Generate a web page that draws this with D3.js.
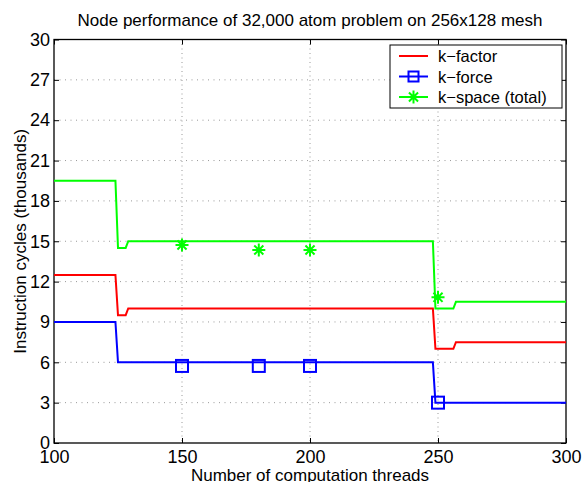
<!DOCTYPE html>
<html><head><meta charset="utf-8">
<script src="https://cdn.jsdelivr.net/npm/d3@7"></script>
<style>body{margin:0;background:#fff}svg{display:block}text{font-family:"Liberation Sans",Arial,sans-serif;fill:#000}</style>
</head><body>
<script>
const stepThreads = [100,124,125,128,129,248,249,256,257,300];
const kFactor = [12.5,12.5,9.5,9.5,10,10,7,7,7.5,7.5];
const kSpace = [19.5,19.5,14.5,14.5,15,15,10,10,10.5,10.5];
const forceThreads = [100,124,125,248,249,300];
const kForce = [9,9,6,6,3,3];
const markerThreads = [150,180,200,250];
const kForceMarkers = [5.73,5.73,5.73,3.0];
const kSpaceMarkers = [14.72,14.35,14.35,10.83];
const xTicks = [100,150,200,250,300];
const yTicks = [0,3,6,9,12,15,18,21,24,27,30];
const legendLabels = ["k\u2212factor","k\u2212force","k\u2212space (total)"];
const colors = ["#ff0000","#0000ff","#00ff00"];

const W=584,H=482, L=54,R=566,T=39.5,B=443;
const svg=d3.select("body").append("svg").attr("width",W).attr("height",H);
const x=d3.scaleLinear().domain([100,300]).range([L,R]);
const y=d3.scaleLinear().domain([0,30]).range([B,T]);

// grid
const g=svg.append("g");
g.selectAll(".gx").data(xTicks.slice(1,-1)).enter().append("line")
 .attr("x1",d=>x(d)).attr("x2",d=>x(d)).attr("y1",T).attr("y2",B)
 .attr("stroke","#999").attr("stroke-dasharray","1,3.5");
g.selectAll(".gy").data(yTicks.slice(1,-1)).enter().append("line")
 .attr("y1",d=>y(d)).attr("y2",d=>y(d)).attr("x1",L).attr("x2",R)
 .attr("stroke","#999").attr("stroke-dasharray","1,4.5");

// axes
const fs=18;
const xa=svg.append("g").attr("transform",`translate(0,${B})`).call(d3.axisBottom(x).tickValues(xTicks).tickSizeInner(-5).tickSizeOuter(0).tickPadding(6));
const xt=svg.append("g").attr("transform",`translate(0,${T})`).call(d3.axisTop(x).tickValues(xTicks).tickSizeInner(-5).tickSizeOuter(0).tickFormat(""));
const ya=svg.append("g").attr("transform",`translate(${L},0)`).call(d3.axisLeft(y).tickValues(yTicks).tickSizeInner(-5).tickSizeOuter(0).tickPadding(4));
const yr=svg.append("g").attr("transform",`translate(${R},0)`).call(d3.axisRight(y).tickValues(yTicks).tickSizeInner(-5).tickSizeOuter(0).tickFormat(""));
[xa,xt,ya,yr].forEach(a=>{a.select(".domain").remove();a.selectAll("line").attr("stroke","#000");a.selectAll("text").attr("font-size",fs).attr("font-family","Liberation Sans, Arial, sans-serif");});
xa.selectAll("text").attr("dy","0.75em");
svg.append("rect").attr("x",L).attr("y",T).attr("width",R-L).attr("height",B-T).attr("fill","none").attr("stroke","#000").attr("stroke-width",1.3);

// lines
const line=d3.line().x(d=>x(d[0])).y(d=>y(d[1]));
const series=[
 {xs:stepThreads,ys:kFactor,c:colors[0]},
 {xs:forceThreads,ys:kForce,c:colors[1]},
 {xs:stepThreads,ys:kSpace,c:colors[2]}];
series.forEach(s=>{
 svg.append("path").attr("d",line(s.xs.map((v,i)=>[v,s.ys[i]]))).attr("fill","none").attr("stroke",s.c).attr("stroke-width",2);
});
// markers
const sq=12;
svg.selectAll(".sq").data(markerThreads.map((v,i)=>[v,kForceMarkers[i]])).enter().append("rect")
 .attr("x",d=>x(d[0])-sq/2).attr("y",d=>y(d[1])-sq/2).attr("width",sq).attr("height",sq)
 .attr("fill","none").attr("stroke",colors[1]).attr("stroke-width",2);
function star(gp,cx,cy,r,c){
 const p=`M${cx-r},${cy}L${cx+r},${cy}M${cx},${cy-r}L${cx},${cy+r}M${cx-r*0.7},${cy-r*0.7}L${cx+r*0.7},${cy+r*0.7}M${cx-r*0.7},${cy+r*0.7}L${cx+r*0.7},${cy-r*0.7}`;
 gp.append("path").attr("d",p).attr("stroke",c).attr("stroke-width",2).attr("fill","none");
}
markerThreads.forEach((v,i)=>star(svg,x(v),y(kSpaceMarkers[i]),6.5,colors[2]));

// title & labels
svg.append("text").attr("x",(L+R)/2).attr("y",26).attr("text-anchor","middle").attr("font-size",17).text("Node performance of 32,000 atom problem on 256x128 mesh");
svg.append("text").attr("x",(L+R)/2).attr("y",481).attr("text-anchor","middle").attr("font-size",17).text("Number of computation threads");
svg.append("text").attr("transform",`translate(26,${(T+B)/2}) rotate(-90)`).attr("text-anchor","middle").attr("font-size",17).text("Instruction cycles (thousands)");

// legend
const lg=svg.append("g");
lg.append("rect").attr("x",390).attr("y",45).attr("width",172).attr("height",63).attr("fill","#fff").attr("stroke","#000").attr("stroke-width",1);
legendLabels.forEach((t,i)=>{
 const ly=56+i*20.5;
 lg.append("line").attr("x1",399).attr("x2",428).attr("y1",ly).attr("y2",ly).attr("stroke",colors[i]).attr("stroke-width",2);
 if(i===1) lg.append("rect").attr("x",413.5-sq/2+1).attr("y",ly-sq/2+1).attr("width",sq-2).attr("height",sq-2).attr("fill","none").attr("stroke",colors[1]).attr("stroke-width",2);
 if(i===2) star(lg,413.5,ly,6.5,colors[2]);
 lg.append("text").attr("x",438).attr("y",ly+6).attr("font-size",16.5).text(t);
});
</script>
</body></html>
